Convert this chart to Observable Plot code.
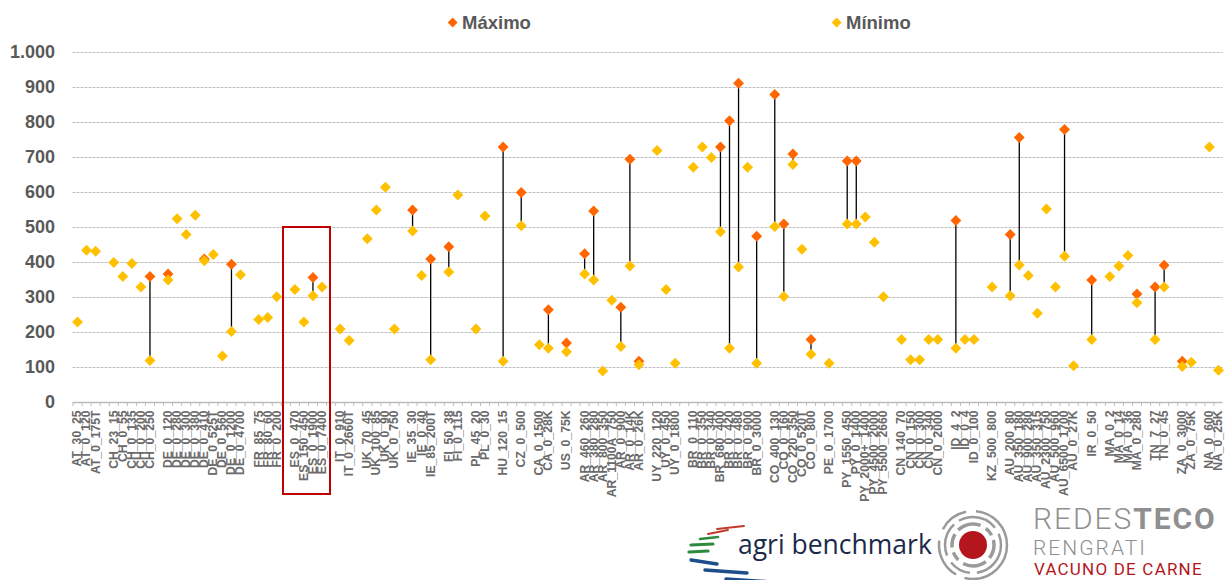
<!DOCTYPE html>
<html>
<head>
<meta charset="utf-8">
<script src="https://cdn.jsdelivr.net/npm/d3@7"></script>
<script src="https://cdn.jsdelivr.net/npm/@observablehq/plot@0.6"></script>
<style>
html,body{margin:0;padding:0;background:#fff;}
#page{position:relative;width:1226px;height:580px;overflow:hidden;font-family:"Liberation Sans",Arial,sans-serif;}
#chart{position:absolute;left:0;top:0;}
.leg{position:absolute;top:13px;font-weight:700;font-size:18.5px;line-height:20px;color:#595959;white-space:nowrap;}
.leg i{position:absolute;left:-12.6px;top:6.4px;width:7.3px;height:7.3px;transform:rotate(45deg);}
#box{position:absolute;left:281.5px;top:226px;width:45px;height:265px;border:2.5px solid #c00000;}
.t{position:absolute;white-space:nowrap;line-height:1;font-family:Roboto;}
</style>
</head>
<body>
<div id="page">
  <div id="chart"></div>
  <div class="leg" style="left:462px"><i style="background:#ff6600"></i>Máximo</div>
  <div class="leg" style="left:846px"><i style="background:#ffc000"></i>Mínimo</div>
  <div id="box"></div>
  <svg style="position:absolute;left:680px;top:520px" width="110" height="60" viewBox="0 0 110 60">
    <g fill="none" stroke-linecap="round">
      <path d="M37 9 L64 6" stroke="#c0392b" stroke-width="1.8"/>
      <path d="M28 14 L48 10" stroke="#c0392b" stroke-width="1.8"/>
      <path d="M20 19 L38 17" stroke="#2e8b3d" stroke-width="2.6"/>
      <path d="M11 25 L33 24" stroke="#2e8b3d" stroke-width="3.2"/>
      <path d="M9 32 L28 31" stroke="#2e8b3d" stroke-width="3.2"/>
      <path d="M11 40 L37 44" stroke="#1d4e89" stroke-width="3.4"/>
      <path d="M25 50 L67 53" stroke="#1d4e89" stroke-width="3.4"/>
      <path d="M46 59 L108 63" stroke="#1d4e89" stroke-width="3.4"/>
    </g>
  </svg>
  <div class="t" style="left:738px;top:531px;font-family:'Open Sans';font-size:26.5px;color:#1b2a4a">agri benchmark</div>
  <svg style="position:absolute;left:935px;top:505px" width="80" height="75" viewBox="0 0 80 75">
    <g fill="none" stroke="#9a9a9a">
      <circle cx="38" cy="40" r="21" stroke-width="3.5" stroke-dasharray="14 5 24 6 9 5"/>
      <circle cx="38" cy="40" r="28" stroke-width="2.5" stroke-dasharray="40 7 22 8 34 6"/>
      <circle cx="38" cy="40" r="34" stroke-width="2.5" stroke-dasharray="62 9 40 12 30 10"/>
    </g>
    <circle cx="38" cy="40" r="14" fill="#b5161d"/>
  </svg>
  <div class="t" style="left:1033px;top:503.8px;font-size:30px;color:#8f8f8f;letter-spacing:1.9px"><span style="font-weight:300">REDES</span><span style="font-weight:700">TECO</span></div>
  <div class="t" style="left:1033px;top:538.3px;font-size:21px;color:#8f8f8f;font-weight:300;letter-spacing:2px">RENGRATI</div>
  <div class="t" style="left:1034px;top:561.2px;font-size:17px;color:#b5161d;letter-spacing:1.2px">VACUNO DE CARNE</div>
</div>
<script>
const categories = [
  "AT_30_25","AT_0_120","AT_0_175T",null,
  "CH_23_15","CH_0_55","CH_0_135","CH_0_200","CH_0_250",null,
  "DE_0_120","DE_0_280","DE_0_300","DE_0_380","DE_0_410","DE_0_525T","DE_0_560","DE_0_1200","DE_0_4700",null,
  "FR_85_75","FR_80_60","FR_0_200",null,
  "ES_0_470","ES_150_450","ES_0_1900","ES_0_7400",null,
  "IT_0_910","IT_0_2660T",null,
  "UK_70_45","UK_100_85","UK_0_90","UK_0_750",null,
  "IE_35_30","IE_0_40","IE_85_200T",null,
  "FI_50_38","FI_0_115",null,
  "PL_45_20","PL_0_30",null,
  "HU_120_15",null,
  "CZ_0_500",null,
  "CA_0_1500","CA_0_28K",null,
  "US_0_75K",null,
  "AR_460_260","AR_380_280","AR_800_350","AR_1100A_750","AR_0_900","AR_0_14K","AR_0_26K",null,
  "UY_220_120","UY_0_450","UY_0_1800",null,
  "BR_0_110","BR_0_350","BR_0_340","BR_680_400","BR_0_420","BR_0_480","BR_0_900","BR_0_3000",null,
  "CO_400_130","CO_0_160","CO_220_350","CO_0_520T","CO_0_800",null,
  "PE_0_1700",null,
  "PY_1550_450","PY_0_1400","PY_2000+_1400","PY_4500_2000","PY_5500_2660",null,
  "CN_140_70","CN_0_150","CN_0_300","CN_0_340","CN_0_2000",null,
  "ID_4_2","ID_0_4","ID_0_100",null,
  "KZ_500_800",null,
  "AU_200_80","AU_350_180","AU_900_280","AU_350_315","AU_2300_750","AU_500_960","AU_6500_1700","AU_0_27K",null,
  "IR_0_50",null,
  "MA_0_2","MA_0_14","MA_0_36","MA_0_280",null,
  "TN_7_27","TN_0_45",null,
  "ZA_0_3000","ZA_0_75K",null,
  "NA_0_600","NA_0_25K"
];
const maxima = [
  null,null,null,null,
  null,null,null,null,360,null,
  367,null,null,null,410,null,null,395,null,null,
  null,null,null,null,
  null,null,357,null,null,
  null,null,null,
  null,null,null,null,null,
  550,null,410,null,
  445,null,null,
  null,null,null,
  730,null,
  600,null,
  null,265,null,
  170,null,
  425,547,null,null,272,695,118,null,
  null,null,null,null,
  null,null,null,730,805,912,null,475,null,
  880,510,710,null,180,null,
  null,null,
  690,690,null,null,null,null,
  null,null,null,null,null,null,
  520,null,null,null,
  null,null,
  480,757,null,null,null,null,780,null,null,
  350,null,
  null,null,null,310,null,
  330,392,null,
  118,null,null,
  null,null
];
const minima = [
  230,435,432,null,
  400,360,397,330,120,null,
  350,525,480,535,405,423,133,203,365,null,
  237,243,302,null,
  323,230,305,330,null,
  210,177,null,
  468,550,615,210,null,
  490,363,122,null,
  373,593,null,
  210,533,null,
  118,null,
  505,null,
  165,155,null,
  145,null,
  367,350,90,292,160,390,108,null,
  720,323,112,null,
  672,730,700,488,155,387,672,112,null,
  503,303,680,438,138,null,
  112,null,
  510,510,530,458,302,null,
  180,122,122,180,180,null,
  155,180,180,null,
  330,null,
  305,393,363,255,553,330,418,105,null,
  180,null,
  360,390,420,285,null,
  180,330,null,
  103,115,null,
  730,92
];
const yTicks = [0,100,200,300,400,500,600,700,800,900,1000];

const slots = categories.map((label,i)=>({i,label,max:maxima[i],min:minima[i]}));
const ranges = slots.filter(d=>d.max!=null&&d.min!=null);
const maxRows = slots.filter(d=>d.max!=null);
const minRows = slots.filter(d=>d.min!=null);
const thousands = d3.formatLocale({decimal:",",thousands:".",grouping:[3],currency:["",""]}).format(",");

const plot = Plot.plot({
  width:1226,height:500,
  marginLeft:72.5,marginRight:3.5,marginTop:52,marginBottom:98,
  style:{background:"transparent",fontFamily:"'Liberation Sans',Arial,sans-serif",overflow:"visible"},
  x:{type:"band",domain:slots.map(d=>d.i),padding:0,round:false,axis:null},
  y:{domain:[0,1000],axis:null},
  marks:[
    Plot.gridY(yTicks.slice(1),{stroke:"#bebebe",strokeOpacity:1,strokeDasharray:"3 1",strokeWidth:1.2}),
    Plot.axisY(yTicks,{anchor:"left",label:null,tickSize:0,tickPadding:18,tickFormat:thousands,fontSize:18,fontWeight:700,fill:"#595959"}),
    Plot.axisX({anchor:"bottom",label:null,tickSize:4,dx:-4.5,text:null,stroke:"#bdbdbd",strokeOpacity:1}),
    Plot.axisX(slots.filter(d=>d.label).map(d=>d.i),{anchor:"bottom",label:null,tickSize:0,tickPadding:8,tickRotate:-90,tickFormat:d=>categories[d],fontSize:12.2,fontWeight:700,fill:"#6a6a6a",textAnchor:"end",lineAnchor:"middle"}),
    Plot.ruleY([0],{stroke:"#bdbdbd",strokeOpacity:1,strokeWidth:1.5}),
    Plot.ruleX(ranges,{x:"i",y1:"max",y2:"min",stroke:"#000",strokeWidth:1.3}),
    Plot.dot(maxRows,{x:"i",y:"max",symbol:"diamond2",r:4.9,fill:"#ff6600"}),
    Plot.dot(minRows,{x:"i",y:"min",symbol:"diamond2",r:4.9,fill:"#ffc000"})
  ]
});
document.getElementById("chart").appendChild(plot);
</script>
</body>
</html>
